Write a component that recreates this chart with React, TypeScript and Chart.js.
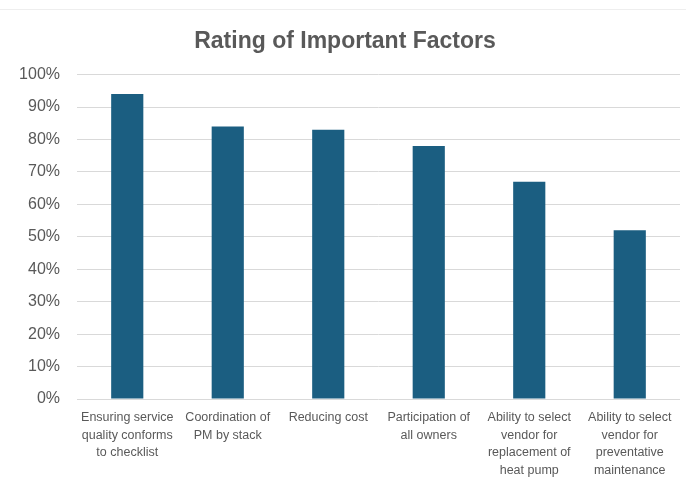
import React, { useEffect, useRef } from "react";
import { Chart, registerables } from "chart.js";

Chart.register(...registerables);

const categories: string[][] = [
  ["Ensuring service", "quality conforms", "to checklist"],
  ["Coordination of", "PM by stack"],
  ["Reducing cost"],
  ["Participation of", "all owners"],
  ["Ability to select", "vendor for", "replacement of", "heat pump"],
  ["Ability to select", "vendor for", "preventative", "maintenance"],
];
const values: number[] = [0.94, 0.84, 0.83, 0.78, 0.67, 0.52];
const yTicks: number[] = [0, 0.1, 0.2, 0.3, 0.4, 0.5, 0.6, 0.7, 0.8, 0.9, 1.0];

const FONT = "'Liberation Sans', Arial, sans-serif";

export default function App() {
  const ref = useRef<HTMLCanvasElement | null>(null);
  useEffect(() => {
    if (!ref.current) return;
    const chart = new Chart(ref.current, {
      type: "bar",
      data: {
        labels: categories,
        datasets: [
          {
            data: values,
            backgroundColor: "#1b5e81",
            borderWidth: 0,
            barPercentage: 0.32,
            categoryPercentage: 1,
          },
        ],
      },
      options: {
        animation: false,
        responsive: false,
        maintainAspectRatio: false,
        layout: { padding: { left: 10, right: 6, top: 0, bottom: 0 } },
        plugins: {
          legend: { display: false },
          tooltip: { enabled: false },
          title: {
            display: true,
            text: "Rating of Important Factors",
            color: "#595959",
            font: { family: FONT, size: 23, weight: "bold" },
            padding: { top: 28, bottom: 19 },
          },
        },
        scales: {
          x: {
            afterFit: (scale: any) => {
              scale.height = 86;
            },
            grid: { display: false, drawTicks: false },
            border: { display: false },
            ticks: {
              color: "#595959",
              font: { family: FONT, size: 12.5, lineHeight: 1.4 },
              padding: 10,
              maxRotation: 0,
              autoSkip: false,
            },
          },
          y: {
            min: 0,
            max: 1,
            afterFit: (scale: any) => {
              scale.width = 67;
            },
            afterBuildTicks: (scale: any) => {
              scale.ticks = yTicks.map((v) => ({ value: v }));
            },
            grid: { color: "#d9d9d9", lineWidth: 1, drawTicks: false },
            border: { display: false },
            ticks: {
              color: "#595959",
              font: { family: FONT, size: 16 },
              padding: 17,
              callback: (v: any) => Math.round(Number(v) * 100) + "%",
            },
          },
        },
      },
    });
    return () => chart.destroy();
  }, []);
  return (
    <div style={{ position: "absolute", left: 0, top: 0, width: 686, height: 485, background: "#fff" }}>
      <div style={{ position: "absolute", left: 0, top: 9, width: 686, height: 1, background: "#eeeeee" }} />
      <canvas ref={ref} width={686} height={485} style={{ position: "absolute", left: 0, top: 0 }} />
    </div>
  );
}
